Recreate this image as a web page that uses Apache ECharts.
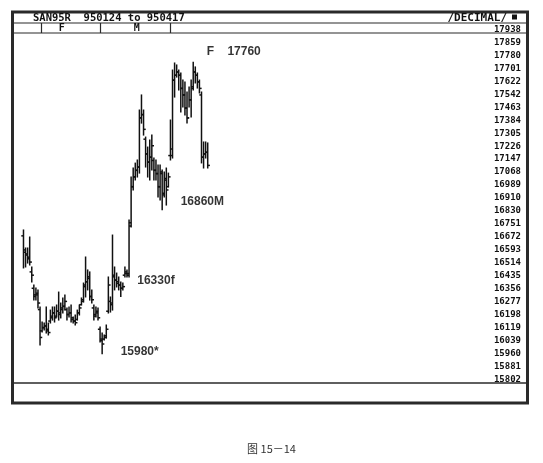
<!DOCTYPE html>
<html><head><meta charset="utf-8">
<script src="https://cdn.jsdelivr.net/npm/echarts@6/dist/echarts.min.js"></script>
<style>html,body{margin:0;padding:0;background:#fff;}#c{width:543px;height:463px;}</style>
</head><body><div id="c"></div>
<script>
// ---- data ----
const barHigh = [16736,16626,16626,16693,16510,16400,16382,16370,16266,16174,16168,16266,16168,16247,16266,16266,16278,16357,16290,16321,16339,16260,16266,16278,16205,16217,16247,16278,16321,16412,16571,16492,16480,16370,16278,16266,16260,16144,16107,16095,16156,16449,16327,16705,16510,16473,16449,16418,16412,16510,16492,16797,17059,17114,17144,17163,17468,17560,17468,17303,17242,17285,17315,17175,17163,17132,17132,17102,17090,17114,17083,17407,17712,17755,17743,17712,17694,17651,17639,17578,17608,17651,17760,17731,17694,17651,17578,17273,17273,17267];
const barLow = [16504,16510,16534,16522,16418,16308,16308,16260,16034,16113,16125,16107,16095,16168,16186,16174,16205,16186,16199,16229,16247,16186,16205,16174,16168,16156,16186,16217,16278,16296,16327,16370,16308,16290,16186,16205,16186,16052,15980,16064,16076,16229,16235,16247,16370,16388,16370,16330,16370,16449,16449,16449,16754,16980,17041,17059,17083,17388,17315,17120,17059,17041,17102,17041,17041,16937,16919,16860,16937,16888,16998,17163,17175,17547,17669,17590,17456,17486,17437,17388,17486,17425,17590,17633,17602,17572,17145,17114,17175,17114];
const barOpen = [16700,16600,16590,16560,16480,16380,16330,16340,16250,16120,16140,16150,16120,16180,16210,16230,16210,16240,16230,16250,16270,16250,16220,16230,16190,16180,16190,16230,16280,16310,16400,16420,16440,16330,16260,16220,16230,16130,16060,16070,16090,16240,16300,16290,16460,16430,16410,16400,16380,16460,16470,16460,16780,17000,17060,17100,17120,17420,17440,17290,17200,17150,17180,17160,17100,17080,17000,17080,16960,17040,17000,17190,17190,17650,17680,17700,17680,17600,17560,17480,17420,17530,17610,17700,17680,17640,17560,17180,17200,17210];
const barClose = [16614,16583,16570,16540,16460,16340,16350,16290,16080,16140,16150,16130,16110,16200,16230,16200,16240,16220,16260,16270,16300,16220,16230,16200,16180,16170,16230,16260,16300,16390,16420,16450,16330,16310,16210,16240,16200,16070,16040,16080,16130,16400,16280,16450,16430,16420,16400,16380,16390,16480,16470,16760,17000,17060,17100,17120,17420,17440,17350,17200,17150,17180,17250,17100,17080,17000,17090,16950,17050,16980,17060,17230,17650,17680,17700,17680,17600,17560,17480,17420,17530,17600,17700,17680,17640,17600,17180,17200,17210,17130];
const tickLabels = [15802,15881,15960,16039,16119,16198,16277,16356,16435,16514,16593,16672,16751,16830,16910,16989,17068,17147,17226,17305,17384,17463,17542,17622,17701,17780,17859,17938];
const monthLabels = ['F','M'];
const monthLabelBars = [18.45, 54.7];
const monthStartBars = [8.45, 36.96, 70.8];
const noteTexts = ['F    17760','16860M','16330f','15980*'];
const noteBars = [82, 67, 47, 38];
const noteValues = [17760, 16860, 16330, 15980];
const titleLeft = 'SAN95R  950124 to 950417';
const titleRight = '/DECIMAL/';
const caption = '图 15－14';

// ---- styles / layout ----
const noteOffsets = [[14,-10],[19,-7],[17,-15],[19,-2]];
const INK = '#111111';
const MONO = '"DejaVu Sans Mono", "Liberation Mono", monospace';

const chart = echarts.init(document.getElementById('c'), null, {renderer:'canvas'});
const ohlc = barHigh.map((h,i)=>[i,h,barLow[i],barOpen[i],barClose[i]]);
const notes = noteTexts.map((t,i)=>({
  value:[noteBars[i], noteValues[i]],
  label:{show:true, formatter:t, position:noteOffsets[i], align:'left', verticalAlign:'middle'}
}));

chart.setOption({
  animation:false,
  backgroundColor:'#ffffff',
  grid:{left:15, right:19, top:33, bottom:80},
  xAxis:{type:'value', min:-4.1, max:241.8, show:false},
  yAxis:{type:'value', position:'right', min:15802, max:17938,
    axisLine:{show:false}, splitLine:{show:false},
    axisTick:{show:false},
    axisLabel:{inside:true, margin:3, customValues:tickLabels, formatter:v=>String(Math.round(v)),
      color:INK, fontFamily:MONO, fontWeight:'bold', fontSize:9, verticalAlign:'bottom', lineHeight:7}
  },
  series:[{
    type:'custom',
    data:ohlc,
    encode:{x:0, y:[1,2,3,4]},
    renderItem:function(params, api){
      const x = api.value(0);
      const pH = api.coord([x, api.value(1)]);
      const pL = api.coord([x, api.value(2)]);
      const pO = api.coord([x, api.value(3)]);
      const pC = api.coord([x, api.value(4)]);
      const w = 2.2;
      const st = {stroke:INK, lineWidth:1.5};
      return {type:'group', children:[
        {type:'line', shape:{x1:pH[0], y1:pH[1]-0.5, x2:pL[0], y2:pL[1]+0.5}, style:st},
        {type:'line', shape:{x1:pO[0]-w, y1:pO[1], x2:pO[0], y2:pO[1]}, style:st},
        {type:'line', shape:{x1:pC[0], y1:pC[1], x2:pC[0]+w, y2:pC[1]}, style:st}
      ]};
    }
  },{
    type:'scatter',
    data:notes,
    symbolSize:1,
    itemStyle:{color:'rgba(0,0,0,0)'},
    label:{color:'#000', fontFamily:'"Liberation Sans", Arial, sans-serif', fontWeight:'bold', fontSize:12},
    z:5
  }]
});

const L = 12.5, R = 527.5;
const lineStyle = (w)=>({stroke:'#2a2a2a', lineWidth:w});
const g = [
  {type:'rect', shape:{x:L, y:12, width:R-L, height:391}, style:{fill:null, stroke:'#2a2a2a', lineWidth:3}},
  {type:'line', shape:{x1:L, y1:23, x2:R, y2:23}, style:lineStyle(1.2)},
  {type:'line', shape:{x1:L, y1:33, x2:R, y2:33}, style:lineStyle(1.2)},
  {type:'line', shape:{x1:L, y1:383, x2:R, y2:383}, style:lineStyle(1.5)},
  {type:'text', x:33, y:18, style:{text:titleLeft, fill:INK, font:'bold 10.5px '+MONO, textAlign:'left', textVerticalAlign:'middle'}},
  {type:'text', x:507, y:18, style:{text:titleRight, fill:INK, font:'bold 11px '+MONO, textAlign:'right', textVerticalAlign:'middle'}},
  {type:'rect', shape:{x:512, y:14.5, width:5, height:5}, style:{fill:INK}},
  {type:'text', x:271.5, y:449, style:{text:caption, fill:'#333', font:'11px "Noto Sans CJK SC", sans-serif', textAlign:'center', textVerticalAlign:'middle'}}
];
monthStartBars.forEach(b=>{
  const px = Math.round(chart.convertToPixel({xAxisIndex:0}, b)) + 0.5;
  g.push({type:'line', shape:{x1:px, y1:23, x2:px, y2:33}, style:lineStyle(1.2)});
});
monthLabels.forEach((t,i)=>{
  const px = chart.convertToPixel({xAxisIndex:0}, monthLabelBars[i]);
  g.push({type:'text', x:px, y:28.5, style:{text:t, fill:INK, font:'bold 10px '+MONO, textAlign:'center', textVerticalAlign:'middle'}});
});
chart.setOption({graphic:g});
</script>
</body></html>
